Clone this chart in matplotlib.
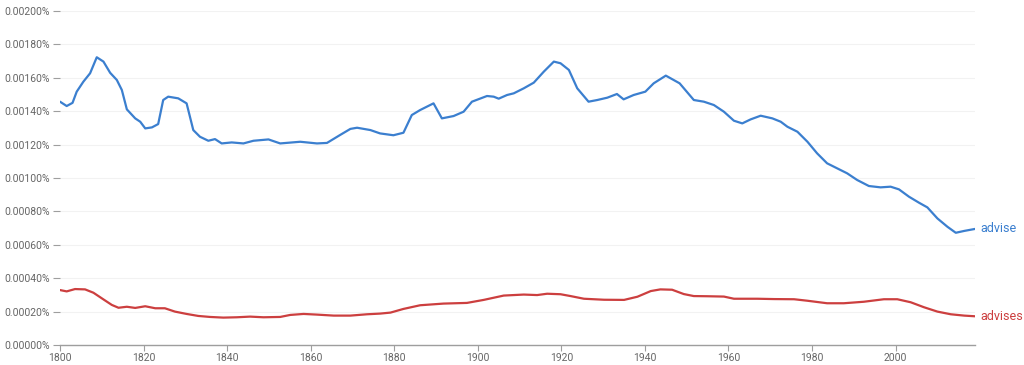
import matplotlib
matplotlib.use("Agg")
import matplotlib.pyplot as plt
from matplotlib.ticker import FuncFormatter

# values (fraction in percent)
advise_years = [1800, 1801.6, 1803, 1804, 1805.6, 1807.2, 1808.8, 1810.4, 1812, 1813.6, 1814.8,
                1816, 1818, 1819.2, 1820.4, 1822, 1823.5, 1824.7, 1825.9, 1828.3, 1830.3, 1831.9,
                1833.5, 1835.5, 1837.1, 1838.7, 1841.1, 1843.9, 1846.3, 1849.9, 1852.7, 1857.5,
                1861.5, 1863.9, 1867, 1869.5, 1871.1, 1874.3, 1876.6, 1879.8, 1882.2, 1884.2,
                1886.2, 1889.4, 1891.4, 1894.2, 1896.6, 1898.6, 1902.2, 1903.8, 1905, 1907,
                1908.6, 1911, 1913.4, 1915.8, 1918.2, 1919.8, 1921.8, 1923.8, 1926.5, 1928.6,
                1931, 1933.3, 1934.9, 1937.3, 1940.1, 1942.1, 1945, 1948.3, 1951.7, 1954.1,
                1956.5, 1958.9, 1961.3, 1963.3, 1965.3, 1967.7, 1970.5, 1972.5, 1974.1, 1976.5,
                1978.9, 1981.2, 1983.6, 1986, 1988.4, 1990.8, 1993.6, 1996.4, 1998.8, 2000.8,
                2003.2, 2005.6, 2007.6, 2010, 2012.4, 2014.4, 2016.4, 2019]
advise_vals = [0.001457, 0.001431, 0.00145, 0.001517, 0.001577, 0.001627, 0.001723, 0.001697,
               0.00163, 0.001587, 0.001527, 0.001411, 0.001357, 0.001337, 0.001297, 0.001303,
               0.001323, 0.001467, 0.001487, 0.001477, 0.001447, 0.001287, 0.001247, 0.001223,
               0.001233, 0.001207, 0.001213, 0.001207, 0.001223, 0.001231, 0.001207, 0.001217,
               0.001207, 0.00121, 0.001257, 0.001294, 0.001301, 0.001287, 0.001267, 0.001256,
               0.001271, 0.001377, 0.001407, 0.001447, 0.001357, 0.001371, 0.001397, 0.001457,
               0.001491, 0.001487, 0.001475, 0.001497, 0.001507, 0.001537, 0.001571, 0.001637,
               0.001697, 0.001687, 0.001647, 0.001537, 0.001457, 0.001467, 0.001481, 0.001503,
               0.001471, 0.001497, 0.001517, 0.001567, 0.001613, 0.001567, 0.001467, 0.001457,
               0.001437, 0.001397, 0.001343, 0.001327, 0.001351, 0.001373, 0.001357, 0.001337,
               0.001307, 0.001277, 0.001217, 0.001148, 0.001088, 0.001058, 0.001028, 0.000988,
               0.000952, 0.000944, 0.000948, 0.000932, 0.000888, 0.000852, 0.000824, 0.000758,
               0.000708, 0.000672, 0.000683, 0.000695]

advises_years = [1800, 1801.6, 1803.6, 1806, 1808, 1810.4, 1812.4, 1814, 1816, 1818, 1820.4,
                 1822.8, 1825.1, 1827.5, 1830.3, 1833.1, 1835.9, 1839.1, 1842.3, 1845.5, 1848.7,
                 1852.7, 1855.1, 1858.3, 1861.5, 1865.5, 1869.5, 1873.5, 1876.6, 1879.1, 1882.2,
                 1886.2, 1891.8, 1897.4, 1901.4, 1906.2, 1911, 1914.2, 1916.6, 1919.8, 1922.2,
                 1925.4, 1930.2, 1935, 1938.2, 1941.4, 1943.7, 1946.5, 1949.3, 1951.7, 1954.9,
                 1958.9, 1961.3, 1966.9, 1970.9, 1975.7, 1978.9, 1983.6, 1987.6, 1992.4, 1997.2,
                 2000.4, 2003.6, 2006.8, 2010, 2013.2, 2016.4, 2019]
advises_vals = [0.000329, 0.000321, 0.000335, 0.000333, 0.000313, 0.000273, 0.00024, 0.000223,
                0.000229, 0.000222, 0.000232, 0.00022, 0.00022, 0.0002, 0.000186, 0.000174,
                0.000168, 0.000164, 0.000166, 0.00017, 0.000166, 0.000168, 0.00018, 0.000186,
                0.000182, 0.000176, 0.000176, 0.000184, 0.000188, 0.000194, 0.000216, 0.000238,
                0.000248, 0.000252, 0.00027, 0.000296, 0.000302, 0.000299, 0.000307, 0.000304,
                0.000293, 0.000277, 0.000271, 0.00027, 0.000289, 0.000323, 0.000333, 0.000331,
                0.000305, 0.000293, 0.000292, 0.00029, 0.000277, 0.000277, 0.000275, 0.000274,
                0.000265, 0.00025, 0.00025, 0.000259, 0.000274, 0.000274, 0.000256, 0.000226,
                0.0002, 0.000184, 0.000176, 0.000172]

series_names = ["advise", "advises"]
series_colors = ["#3b7fcf", "#cc3f3f"]

y_ticks = [i * 0.0002 for i in range(11)]
x_ticks = list(range(1800, 2001, 20))

plt.rcParams['font.family'] = ['Roboto', 'DejaVu Sans']

fig = plt.figure(figsize=(10.24, 3.65), dpi=100)
ax = fig.add_axes([60 / 1024, 1 - 345 / 365, 915 / 1024, 334 / 365])

for yrs, vals, name, col in zip([advise_years, advises_years], [advise_vals, advises_vals],
                                series_names, series_colors):
    ax.plot(yrs, vals, color=col, lw=1.6, solid_capstyle='round', solid_joinstyle='round')
    ax.annotate(name, xy=(yrs[-1], vals[-1]), xytext=(4, 0), textcoords='offset points',
                ha='left', va='center', color=col, fontsize=9, annotation_clip=False)

ax.set_xlim(1800, 2019)
ax.set_ylim(0, 0.002)
ax.set_yticks(y_ticks)
ax.set_xticks(x_ticks)
ax.yaxis.set_major_formatter(FuncFormatter(lambda v, p: f"{v:.5f}%"))
ax.grid(axis='y', color='#f2f2f2', lw=0.8)
ax.set_axisbelow(True)

for side in ['top', 'right', 'left']:
    ax.spines[side].set_visible(False)
ax.spines['bottom'].set_color('#9e9e9e')
ax.spines['bottom'].set_linewidth(1.0)
ax.tick_params(axis='y', length=5, width=0.8, color='#9e9e9e', labelcolor='#666666',
               labelsize=7.5, pad=2)
ax.tick_params(axis='x', length=4, width=0.8, color='#9e9e9e', labelcolor='#666666',
               labelsize=7.5, pad=2)

fig.savefig("out.png", dpi=100, facecolor='white')
